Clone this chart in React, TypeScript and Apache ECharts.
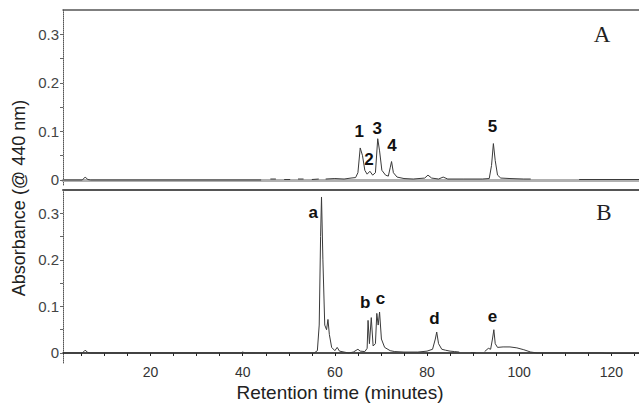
import React, { useEffect, useRef } from "react";
import * as echarts from "echarts";

// Panel A chromatogram (time in minutes, absorbance); null = gap in trace
const timeA = [1, 5.2, 5.8, 6.4, 7.0, 44, null, 46, 47.2, null, 49, 50.3, null, 52, 53.2, null, 55, 56.5, null,
  58, 60, 62, 63.5, 64.5, 65.0, 65.5, 66.0, 66.5, 67.0, 67.6, 68.2, 68.8, 69.3, 69.7, 70.2, 71.0, 71.6, 72.0, 72.3,
  72.7, 73.5, 75, 77, 79.5, 80.2, 81, 82.5, 83.5, 84.5, 88, 92, 93.5, 94.0, 94.4, 94.8, 95.3, 96, 98, 101, 102.5,
  null, 113, 126];
const absA = [0, 0, 0.006, 0.001, 0, 0, null, 0.002, 0.002, null, 0.001, 0.001, null, 0.002, 0.002, null, 0.001, 0.002, null,
  0.002, 0.003, 0.002, 0.004, 0.005, 0.015, 0.066, 0.05, 0.02, 0.012, 0.018, 0.01, 0.015, 0.085, 0.06, 0.02, 0.01, 0.008, 0.025, 0.038,
  0.015, 0.006, 0.003, 0.002, 0.004, 0.01, 0.004, 0.002, 0.006, 0.002, 0.002, 0.002, 0.003, 0.03, 0.075, 0.04, 0.01, 0.004, 0.003, 0.002, 0.002,
  null, 0.001, 0.001];

// Panel B chromatogram
const timeB = [1, 5.2, 5.8, 6.4, 7.0, 39.5, 40, 40.5, 55.5, 56.2, 56.6, 56.9, 57.1, 57.4, 57.8, 58.2, 58.5, 58.8, 59.3,
  60, 60.5, 61, 62, 63, 64, 65, 65.5, 66.5, 67.0, 67.2, 67.5, 67.9, 68.3, 68.8, 69.1, 69.4, 69.7, 70.1, 70.8, 72, 73,
  75, 78, 80, 81.2, 81.8, 82.1, 82.5, 83.2, 84, 85, 86, 87, null, 89.5, 90.5, null, 92.5, 93.3, 93.8, 94.2, 94.5, 94.8,
  95.3, 96.5, 98, 99.5, 101, 102.5, 104, 118, 119, 126];
const absB = [0, 0, 0.006, 0.001, 0, 0, 0.002, 0, 0, 0.005, 0.06, 0.25, 0.335, 0.2, 0.06, 0.05, 0.072, 0.04, 0.012,
  0.005, 0.012, 0.004, 0.002, 0, 0.002, 0.008, 0.004, 0.003, 0.01, 0.07, 0.02, 0.076, 0.015, 0.02, 0.085, 0.06, 0.088, 0.03, 0.012, 0.005, 0.003,
  0.002, 0.002, 0.004, 0.008, 0.03, 0.045, 0.02, 0.008, 0.006, 0.004, 0.003, 0.002, null, 0.001, 0.001, null, 0.003, 0.01, 0.008, 0.03, 0.05, 0.02,
  0.012, 0.013, 0.013, 0.011, 0.007, 0.002, 0, 0, -0.001, -0.001];

// Peak labels
const peakNamesA = ["1", "2", "3", "4", "5"];
const peakTimesA = [65.3, 67.4, 69.2, 72.4, 94.2];
const peakAbsA = [0.099, 0.043, 0.107, 0.07, 0.11];
const peakNamesB = ["a", "b", "c", "d", "e"];
const peakTimesB = [55.3, 66.6, 69.9, 81.6, 94.2];
const peakAbsB = [0.301, 0.108, 0.116, 0.074, 0.079];

const xLabelTicks = [20, 40, 60, 80, 100, 120];
const xMinorTicks = [5, 10, 15, 20, 25, 30, 35, 40, 45, 50, 55, 60, 65, 70, 75, 80, 85, 90, 95, 100, 105, 110, 115, 120, 125];
const yLabelTicks = [0, 0.1, 0.2, 0.3];
const yAllTicks = [0, 0.05, 0.1, 0.15, 0.2, 0.25, 0.3];

const FONT = "'Liberation Sans', Arial, sans-serif";

function toPairs(t: (number | null)[], v: (number | null)[]) {
  return t.map((x, i) => (x === null || v[i] === null ? ["-", "-"] : [x, v[i]]));
}

function peakMarks(names: string[], ts: number[], vs: number[]) {
  return names.map((n, i) => ({ name: n, coord: [ts[i], vs[i]] }));
}

export default function App() {
  const ref = useRef<HTMLDivElement>(null);
  useEffect(() => {
    if (!ref.current) return;
    const chart = echarts.init(ref.current, null, { renderer: "svg" });
    const yAxisBase = (gi: number, min: number) => ({
      type: "value",
      gridIndex: gi,
      min,
      max: 0.35,
      splitLine: { show: false },
      axisLine: { show: true, lineStyle: { color: "#555", type: "dotted", width: 1 } },
      axisTick: { show: true, length: 3, customValues: yAllTicks, lineStyle: { color: "#666" } },
      axisLabel: {
        customValues: yLabelTicks,
        color: "#444",
        fontFamily: FONT,
        fontSize: 15,
        margin: 4,
        formatter: (v: number) => (v === 0 ? "0" : String(Math.round(v * 10) / 10)),
      },
    });
    const markStyle = {
      symbol: "circle",
      symbolSize: 1,
      itemStyle: { color: "rgba(0,0,0,0)" },
      label: {
        show: true,
        position: "inside",
        formatter: "{b}",
        color: "#111",
        fontFamily: FONT,
        fontWeight: "bold",
        fontSize: 17,
      },
    };
    chart.setOption({
      animation: false,
      backgroundColor: "#fff",
      grid: [
        { left: 63, right: 0, top: 10, height: 175 },
        { left: 63, right: 0, top: 190, height: 173 },
      ],
      xAxis: [
        {
          type: "value", gridIndex: 0, min: 1, max: 126,
          splitLine: { show: false },
          axisLine: { show: true, lineStyle: { color: "#b0b0b0", width: 3 } },
          axisTick: { show: false },
          axisLabel: { show: false },
        },
        {
          type: "value", gridIndex: 0, min: 1, max: 126, position: "top",
          splitLine: { show: false },
          axisLine: { show: true, lineStyle: { color: "#555", width: 1.5 } },
          axisTick: { show: false },
          axisLabel: { show: false },
        },
        {
          type: "value", gridIndex: 1, min: 1, max: 126,
          splitLine: { show: false },
          axisLine: { show: true, lineStyle: { color: "#111", width: 1.5 } },
          axisTick: { show: true, length: 3, customValues: xMinorTicks, lineStyle: { color: "#222" } },
          axisLabel: { customValues: xLabelTicks, color: "#333", fontFamily: FONT, fontSize: 14, margin: 2 },
        },
        {
          type: "value", gridIndex: 1, min: 1, max: 126, position: "top",
          splitLine: { show: false },
          axisLine: { show: true, lineStyle: { color: "#555", width: 2 } },
          axisTick: { show: false },
          axisLabel: { show: false },
        },
      ],
      yAxis: [yAxisBase(0, -0.0103), yAxisBase(1, -0.0215)],
      series: [
        {
          type: "line", xAxisIndex: 0, yAxisIndex: 0,
          data: toPairs(timeA, absA),
          showSymbol: false, connectNulls: false, silent: true,
          lineStyle: { color: "#3a3a3a", width: 1 },
          markPoint: { ...markStyle, data: peakMarks(peakNamesA, peakTimesA, peakAbsA) },
        },
        {
          type: "line", xAxisIndex: 2, yAxisIndex: 1,
          data: toPairs(timeB, absB),
          showSymbol: false, connectNulls: false, silent: true,
          lineStyle: { color: "#3a3a3a", width: 1 },
          markPoint: { ...markStyle, data: peakMarks(peakNamesB, peakTimesB, peakAbsB) },
        },
      ],
      graphic: [
        {
          type: "text", x: 19, y: 198, rotation: Math.PI / 2,
          style: {
            text: "Absorbance (@ 440 nm)", fill: "#222", font: `18px ${FONT}`,
            textAlign: "center", textVerticalAlign: "middle",
          },
        },
        {
          type: "text", x: 340, y: 392,
          style: {
            text: "Retention time (minutes)", fill: "#222", font: `19px ${FONT}`,
            textAlign: "center", textVerticalAlign: "middle",
          },
        },
        {
          type: "text", x: 602, y: 34,
          style: {
            text: "A", fill: "#222", font: `23px 'Liberation Serif', 'Times New Roman', serif`,
            textAlign: "center", textVerticalAlign: "middle",
          },
        },
        {
          type: "text", x: 604, y: 212,
          style: {
            text: "B", fill: "#222", font: `23px 'Liberation Serif', 'Times New Roman', serif`,
            textAlign: "center", textVerticalAlign: "middle",
          },
        },
      ],
    });
    return () => chart.dispose();
  }, []);
  return (
    <div
      ref={ref}
      style={{ position: "fixed", left: 0, top: 0, width: 639, height: 404, background: "#fff" }}
    />
  );
}
